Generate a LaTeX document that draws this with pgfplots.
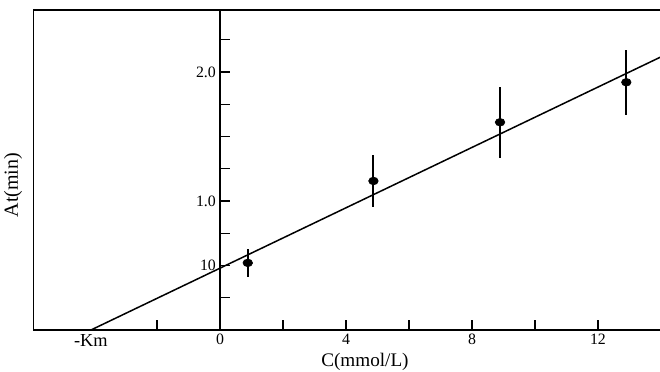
\documentclass[border=0pt]{standalone}
\usepackage{fontspec}
\setmainfont{Liberation Serif}
\usepackage{pgfplots}
\pgfplotsset{compat=1.18}
\begin{document}
\begin{tikzpicture}
\begin{axis}[
  scale only axis,
  width=376.2pt, height=192pt,
  xmin=-5.94, xmax=13.97,
  ymin=0, ymax=2.48,
  axis x line=bottom,
  axis y line=middle,
  axis line style={-, black, line width=0.9pt},
  clip=true,
  /pgf/number format/assume math mode=true,
  xtick={-2,0,2,4,6,8,10,12},
  xticklabels={,0,,4,,8,,12},
  extra x ticks={-4.1},
  extra x tick labels={-Km},
  extra x tick style={major tick length=0pt, tick label style={font=\fontsize{11}{12}\selectfont}},
  ytick={0.25,0.5,0.75,1,1.25,1.5,1.75,2,2.25},
  yticklabels={,10,,1.0,,,,2.0,},
  tick align=inside,
  major tick length=6pt,
  tick style={black, line width=0.8pt},
  tick label style={font=\fontsize{9.5}{10}\selectfont},
  xticklabel style={yshift=1pt},
  yticklabel style={xshift=1pt},
  xlabel={C(mmol/L)},
  ylabel={At(min)},
  every axis x label/.style={at={(axis cs:4.6,0)}, anchor=center, yshift=-19pt, font=\fontsize{11.5}{13}\selectfont},
  every axis y label/.style={at={(rel axis cs:0,0.453)}, xshift=-12pt, rotate=90, anchor=center, font=\fontsize{12}{14}\selectfont},
]
\draw[line width=1.2pt] (rel axis cs:0,0) -- (rel axis cs:0,1) -- (rel axis cs:1,1);
\addplot[black, line width=0.9pt, no marks] coordinates {(-4.1,0) (14.2,2.14)};
\addplot[black, only marks, mark=*, mark size=2.4pt, mark options={xscale=1.2, yscale=0.95},
  error bars/.cd, y dir=both, y explicit, error bar style={line width=1.2pt}, error mark=none]
  coordinates {
    (0.88,0.52) +- (0,0.11)
    (4.87,1.155) +- (0,0.205)
    (8.89,1.61) +- (0,0.275)
    (12.9,1.92) +- (0,0.25)
  };
\end{axis}
\pgfresetboundingbox
\useasboundingbox (-19.8pt,-24.6pt) rectangle (376.2pt,198pt);
\end{tikzpicture}
\end{document}
